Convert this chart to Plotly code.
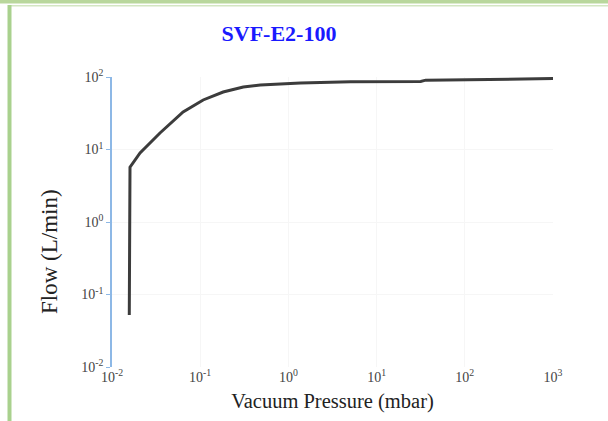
import plotly.graph_objects as go

# Data (log-log curve)
pressure_mbar = [0.0157, 0.016, 0.0208, 0.035, 0.064, 0.108, 0.182, 0.308, 0.48,
                 1.37, 5.07, 18.7, 31.6, 36.0, 69.0, 257.0, 1000.0]
flow_lpm = [0.052, 5.7, 8.95, 16.9, 32.9, 48.2, 62.0, 72.8, 77.6,
            82.6, 86.0, 88.0, 87.0, 90.5, 91.0, 92.4, 95.0]

x_tickvals = [0.01, 0.1, 1, 10, 100, 1000]
x_ticktext = ["10<sup>-2</sup>", "10<sup>-1</sup>", "10<sup>0</sup>",
              "10<sup>1</sup>", "10<sup>2</sup>", "10<sup>3</sup>"]
y_tickvals = [0.01, 0.1, 1, 10, 100]
y_ticktext = ["10<sup>-2</sup>", "10<sup>-1</sup>", "10<sup>0</sup>",
              "10<sup>1</sup>", "10<sup>2</sup>"]

title_text = "SVF-E2-100"
x_title = "Vacuum Pressure (mbar)"
y_title = "Flow (L/min)"

serif = "Liberation Serif, Times New Roman, serif"

fig = go.Figure()
fig.add_trace(go.Scatter(
    x=pressure_mbar, y=flow_lpm, mode="lines",
    line=dict(color="#3c3c3c", width=3),
    showlegend=False, hoverinfo="skip",
))

W, H = 608, 421
L, R, T, B = 112, 55, 77, 54
pw, ph = W - L - R, H - T - B


def px_x(p):
    return (p - L) / pw


def px_y(p):
    return (H - B - p) / ph


shapes = [
    # top green band
    dict(type="rect", xref="paper", yref="paper",
         x0=px_x(0), x1=px_x(W), y0=px_y(0), y1=px_y(3.5),
         fillcolor="#b9d79c", line=dict(width=0), layer="below"),
    dict(type="rect", xref="paper", yref="paper",
         x0=px_x(8), x1=px_x(W), y0=px_y(5), y1=px_y(6.5),
         fillcolor="#d3e6c2", line=dict(width=0), layer="below"),
    # left green band
    dict(type="rect", xref="paper", yref="paper",
         x0=px_x(7.5), x1=px_x(11.5), y0=px_y(5), y1=px_y(H),
         fillcolor="#a9d18e", line=dict(width=0), layer="below"),
]

annotations = [
    dict(text=y_title, xref="paper", yref="paper", x=px_x(49), y=px_y(252),
         xanchor="center", yanchor="middle", textangle=-90, showarrow=False,
         font=dict(family=serif, size=23, color="#222222")),
]

fig.update_layout(
    width=W, height=H,
    margin=dict(l=L, r=R, t=T, b=B, pad=0),
    paper_bgcolor="white", plot_bgcolor="white",
    shapes=shapes, annotations=annotations,
    title=dict(text="<b>" + title_text + "</b>", x=px_x(279), xref="paper", xanchor="center",
               y=1 - 33 / H, yanchor="middle",
               font=dict(family=serif, size=22, color="#1a1aff")),
    font=dict(family=serif, color="#333333"),
)

fig.update_xaxes(
    type="log", range=[-2, 3],
    tickvals=x_tickvals, ticktext=x_ticktext,
    tickfont=dict(family=serif, size=14, color="#444444"),
    showline=False, zeroline=False,
    showgrid=True, gridcolor="#f6f6f6", gridwidth=1,
    ticks="", ticklabelstandoff=0,
    title=dict(text=x_title, font=dict(family=serif, size=20.5, color="#222222"), standoff=9),
)
fig.update_yaxes(
    type="log", range=[-2, 2],
    tickvals=y_tickvals, ticktext=y_ticktext,
    tickfont=dict(family=serif, size=14, color="#444444"),
    showline=True, linecolor="#8db8e6", linewidth=1.5,
    ticks="outside", ticklen=4, tickcolor="#8db8e6",
    zeroline=False,
    showgrid=True, gridcolor="#f6f6f6", gridwidth=1,
)

fig.write_html("out.html", config={"displayModeBar": False},
               post_script="document.body.style.margin='0px';")
